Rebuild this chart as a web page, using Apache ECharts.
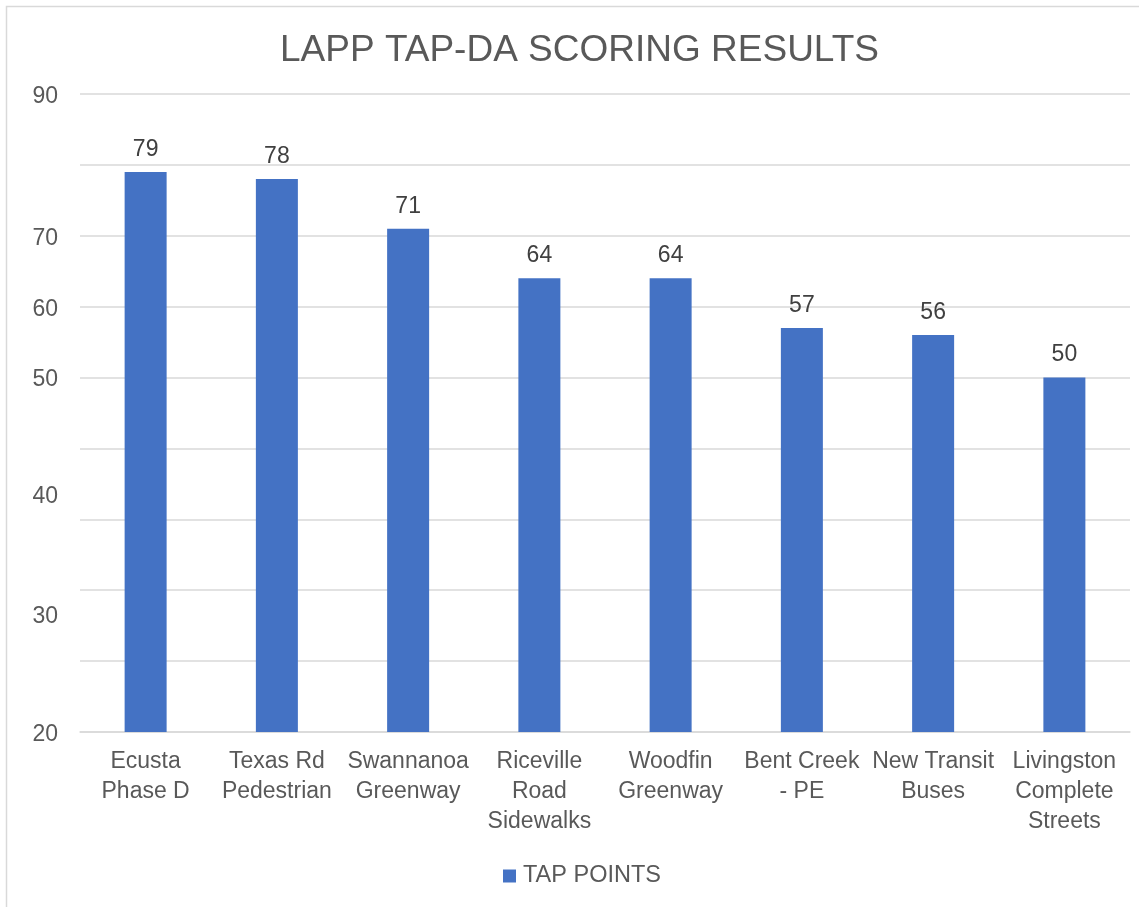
<!DOCTYPE html>
<html>
<head>
<meta charset="utf-8">
<script src="https://cdn.jsdelivr.net/npm/echarts@6/dist/echarts.min.js"></script>
<style>
html,body{margin:0;padding:0;background:#fff;}
#chart{width:1139px;height:907px;}
</style>
</head>
<body>
<div id="chart"></div>
<script>
const titleText = "LAPP TAP-DA SCORING RESULTS";
const seriesName = "TAP POINTS";
const categories = [
  "Ecusta\nPhase D",
  "Texas Rd\nPedestrian",
  "Swannanoa\nGreenway",
  "Riceville\nRoad\nSidewalks",
  "Woodfin\nGreenway",
  "Bent Creek\n- PE",
  "New Transit\nBuses",
  "Livingston\nComplete\nStreets"
];
const values = [79, 78, 71, 64, 64, 57, 56, 50];
const yTickValues = [0, 16.6, 33.5, 50, 60, 70, 90];
const yTickLabels = ["20", "30", "40", "50", "60", "70", "90"];

const chart = echarts.init(document.getElementById('chart'), null, {renderer: 'canvas'});
const txt = '#595959';
const font = '"Liberation Sans", Arial, sans-serif';
chart.setOption({
  animation: false,
  backgroundColor: '#fff',
  textStyle: {fontFamily: font},
  graphic: [{
    type: 'rect',
    shape: {x: 6.5, y: 6.5, width: 1300, height: 1100},
    style: {fill: 'none', stroke: '#D9D9D9', lineWidth: 1.5},
    silent: true,
    z: 0
  }],
  title: {
    text: titleText,
    left: 275,
    top: 27,
    textStyle: {fontFamily: font, fontSize: 37, fontWeight: 'normal', color: txt}
  },
  legend: {
    data: [seriesName],
    bottom: 14,
    left: 498,
    icon: 'rect',
    itemWidth: 13,
    itemHeight: 13,
    itemGap: 5,
    textStyle: {fontFamily: font, fontSize: 23.5, color: txt, padding: [0, 0, 0, 2]}
  },
  grid: {left: 80, right: 9, top: 94, height: 638, containLabel: false},
  xAxis: {
    type: 'category',
    data: categories,
    axisLine: {lineStyle: {color: '#D9D9D9', width: 1.5}},
    axisTick: {show: false},
    axisLabel: {
      interval: 0,
      margin: 15,
      fontFamily: font,
      fontSize: 23,
      lineHeight: 30,
      color: txt,
      align: 'center'
    }
  },
  yAxis: {
    type: 'value',
    min: 0,
    max: 90,
    interval: 10,
    axisLine: {show: false},
    axisTick: {show: false},
    splitLine: {lineStyle: {color: '#D9D9D9', width: 1.5}},
    axisLabel: {
      customValues: yTickValues,
      margin: 22,
      fontFamily: font,
      fontSize: 23,
      color: txt,
      rich: {
        t: {fontFamily: font, fontSize: 23, color: txt, padding: [5, 0, 0, 0]}
      },
      formatter: function (v) {
        let best = 0, bd = 1e9;
        yTickValues.forEach(function (t, i) { const d = Math.abs(t - v); if (d < bd) { bd = d; best = i; } });
        return '{t|' + yTickLabels[best] + '}';
      }
    }
  },
  series: [{
    name: seriesName,
    type: 'bar',
    data: values,
    barWidth: 42,
    itemStyle: {color: '#4472C4'},
    label: {
      show: true,
      position: 'top',
      distance: 11,
      fontFamily: font,
      fontSize: 23,
      color: '#404040'
    }
  }]
});
</script>
</body>
</html>
